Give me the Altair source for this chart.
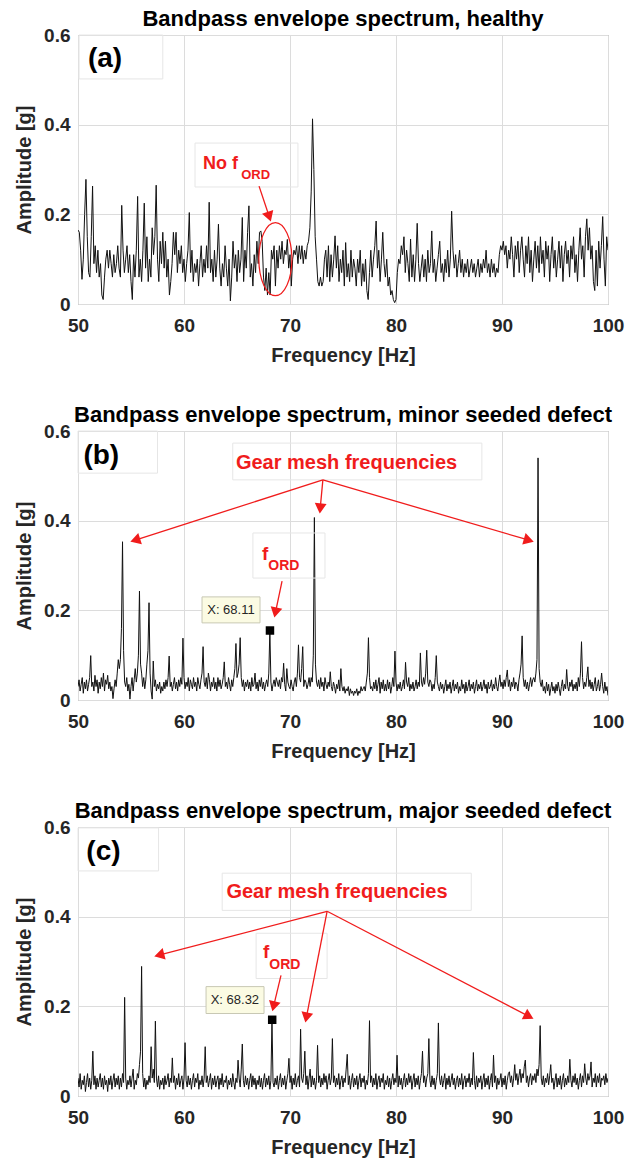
import math
import altair as alt
import pandas as pd

# ---------------- data ----------------
X_TICKS = [50, 60, 70, 80, 90, 100]
Y_TICKS = [0, 0.2, 0.4, 0.6]

TITLES = [
    "Bandpass envelope spectrum, healthy",
    "Bandpass envelope spectrum, minor seeded defect",
    "Bandpass envelope spectrum, major seeded defect",
]
PANEL_LABELS = ["(a)", "(b)", "(c)"]

# (a) healthy: frequency resolution 0.125 Hz starting at 50 Hz
STEP_A = 0.125
AMP_A = [
    0.165, 0.16, 0.12, 0.055, 0.1, 0.2, 0.278, 0.15,
    0.07, 0.06, 0.15, 0.263, 0.09, 0.13, 0.07, 0.12,
    0.06, 0.09, 0.02, 0.01, 0.06, 0.1, 0.12, 0.08,
    0.12, 0.09, 0.06, 0.11, 0.07, 0.09, 0.13, 0.08,
    0.06, 0.22, 0.12, 0.07, 0.1, 0.13, 0.07, 0.11,
    0.05, 0.01, 0.11, 0.06, 0.12, 0.24, 0.06, 0.1,
    0.05, 0.12, 0.225, 0.08, 0.15, 0.05, 0.1, 0.06,
    0.17, 0.11, 0.15, 0.265, 0.1, 0.05, 0.14, 0.09,
    0.16, 0.08, 0.14, 0.06, 0.1, 0.02, 0.05, 0.09,
    0.16, 0.11, 0.16, 0.07, 0.12, 0.09, 0.13, 0.07,
    0.1, 0.05, 0.09, 0.12, 0.204, 0.07, 0.12, 0.05,
    0.09, 0.07, 0.1, 0.04, 0.09, 0.13, 0.06, 0.1,
    0.07, 0.13, 0.08, 0.227, 0.07, 0.1, 0.05, 0.12,
    0.06, 0.1, 0.178, 0.08, 0.04, 0.09, 0.06, 0.13,
    0.08, 0.04, 0.1, 0.007, 0.06, 0.14, 0.08, 0.11,
    0.05, 0.12, 0.07, 0.1, 0.193, 0.05, 0.12, 0.08,
    0.16, 0.219, 0.06, 0.09, 0.04, 0.11, 0.07, 0.14,
    0.09, 0.16, 0.163, 0.14, 0.06, 0.03, 0.08, 0.02,
    0.07, 0.02, 0.12, 0.1, 0.13, 0.04, 0.12, 0.08,
    0.13, 0.1, 0.14, 0.09, 0.12, 0.11, 0.144, 0.08,
    0.11, 0.04, 0.1, 0.12, 0.11, 0.13, 0.09, 0.13,
    0.1, 0.13, 0.09, 0.12, 0.1, 0.13, 0.14, 0.17,
    0.25, 0.413, 0.3, 0.15, 0.1, 0.05, 0.04, 0.06,
    0.04, 0.05, 0.1, 0.12, 0.06, 0.13, 0.05, 0.11,
    0.06, 0.1, 0.152, 0.08, 0.13, 0.05, 0.1, 0.07,
    0.12, 0.04, 0.137, 0.06, 0.09, 0.05, 0.12, 0.06,
    0.1, 0.08, 0.04, 0.1, 0.07, 0.12, 0.04, 0.09,
    0.05, 0.1, 0.03, 0.01, 0.07, 0.12, 0.06, 0.1,
    0.13, 0.185, 0.08, 0.12, 0.05, 0.1, 0.16, 0.09,
    0.06, 0.1, 0.04, 0.06, 0.02, 0.03, 0.01, 0.003,
    0.01, 0.07, 0.1, 0.09, 0.13, 0.11, 0.15, 0.07,
    0.12, 0.09, 0.05, 0.145, 0.06, 0.11, 0.05, 0.1,
    0.18, 0.09, 0.05, 0.08, 0.11, 0.06, 0.1, 0.05,
    0.12, 0.07, 0.09, 0.163, 0.07, 0.1, 0.05, 0.08,
    0.11, 0.14, 0.07, 0.09, 0.05, 0.1, 0.07, 0.12,
    0.06, 0.1, 0.207, 0.12, 0.08, 0.11, 0.06, 0.09,
    0.12, 0.07, 0.1, 0.06, 0.09, 0.07, 0.1, 0.06,
    0.08, 0.1, 0.07, 0.09, 0.06, 0.08, 0.1, 0.06,
    0.09, 0.07, 0.1, 0.08, 0.12, 0.07, 0.09, 0.06,
    0.1, 0.07, 0.09, 0.06, 0.08, 0.07, 0.11, 0.13,
    0.12, 0.14, 0.11, 0.13, 0.08, 0.12, 0.1, 0.15,
    0.11, 0.06, 0.13, 0.1, 0.14, 0.07, 0.12, 0.15,
    0.1, 0.06, 0.13, 0.09, 0.15, 0.07, 0.12, 0.05,
    0.1, 0.14, 0.08, 0.13, 0.07, 0.15, 0.09, 0.12,
    0.06, 0.14, 0.1, 0.13, 0.05, 0.11, 0.15, 0.08,
    0.12, 0.06, 0.1, 0.14, 0.08, 0.13, 0.05, 0.11,
    0.14, 0.09, 0.12, 0.06, 0.13, 0.1, 0.15, 0.07,
    0.11, 0.05, 0.12, 0.17, 0.1, 0.13, 0.06, 0.15,
    0.19, 0.12, 0.17, 0.1, 0.13, 0.05, 0.03, 0.12,
    0.04, 0.14, 0.08, 0.13, 0.195, 0.1, 0.04, 0.15,
    0.12,
]

# (b) and (c): frequency resolution 0.1 Hz starting at 50 Hz
STEP_BC = 0.1
AMP_B = [
    0.03, 0.045, 0.02, 0.035, 0.05, 0.015, 0.04, 0.025, 0.045, 0.02,
    0.035, 0.05, 0.099, 0.03, 0.04, 0.02, 0.055, 0.03, 0.045, 0.015,
    0.04, 0.025, 0.05, 0.03, 0.06, 0.02, 0.045, 0.035, 0.055, 0.025,
    0.04, 0.02, 0.03, 0.003, 0.025, 0.045, 0.03, 0.06, 0.09, 0.07,
    0.09, 0.16, 0.353, 0.11, 0.04, 0.03, 0.05, 0.02, 0.035, 0.002,
    0.03, 0.05, 0.02, 0.045, 0.07, 0.04, 0.06, 0.1, 0.243, 0.08,
    0.06, 0.03, 0.05, 0.025, 0.045, 0.08, 0.11, 0.217, 0.06, 0.02,
    0.002, 0.087, 0.03, 0.045, 0.02, 0.035, 0.025, 0.04, 0.015, 0.03,
    0.02, 0.04, 0.025, 0.045, 0.03, 0.05, 0.098, 0.03, 0.04, 0.02,
    0.035, 0.05, 0.025, 0.04, 0.02, 0.045, 0.03, 0.05, 0.035, 0.138,
    0.05, 0.025, 0.04, 0.03, 0.05, 0.02, 0.045, 0.035, 0.025, 0.05,
    0.03, 0.04, 0.02, 0.05, 0.035, 0.025, 0.045, 0.06, 0.119, 0.04,
    0.03, 0.05, 0.025, 0.06, 0.045, 0.02, 0.04, 0.03, 0.05, 0.025,
    0.04, 0.02, 0.05, 0.03, 0.045, 0.025, 0.035, 0.05, 0.085, 0.03,
    0.04, 0.025, 0.05, 0.035, 0.02, 0.045, 0.03, 0.05, 0.07, 0.126,
    0.05, 0.06, 0.08, 0.139, 0.05, 0.03, 0.045, 0.02, 0.04, 0.03,
    0.045, 0.025, 0.04, 0.02, 0.05, 0.03, 0.035, 0.06, 0.025, 0.04,
    0.02, 0.045, 0.03, 0.05, 0.025, 0.04, 0.02, 0.035, 0.045, 0.03,
    0.06, 0.155, 0.04, 0.02, 0.035, 0.045, 0.03, 0.05, 0.04, 0.03,
    0.045, 0.025, 0.05, 0.04, 0.082, 0.035, 0.02, 0.07, 0.04, 0.03,
    0.025, 0.045, 0.03, 0.02, 0.04, 0.05, 0.03, 0.06, 0.123, 0.05,
    0.04, 0.07, 0.119, 0.03, 0.045, 0.04, 0.025, 0.035, 0.05, 0.03,
    0.05, 0.04, 0.1, 0.407, 0.08, 0.04, 0.03, 0.045, 0.025, 0.05,
    0.03, 0.04, 0.02, 0.05, 0.035, 0.025, 0.04, 0.03, 0.063, 0.03,
    0.02, 0.04, 0.03, 0.015, 0.035, 0.025, 0.045, 0.02, 0.07, 0.03,
    0.02, 0.03, 0.015, 0.025, 0.02, 0.03, 0.01, 0.025, 0.015, 0.02,
    0.01, 0.02, 0.015, 0.025, 0.01, 0.02, 0.015, 0.03, 0.02, 0.025,
    0.03, 0.02, 0.04, 0.06, 0.139, 0.05, 0.025, 0.03, 0.02, 0.04,
    0.025, 0.045, 0.02, 0.035, 0.05, 0.015, 0.04, 0.025, 0.045, 0.02,
    0.035, 0.02, 0.045, 0.025, 0.04, 0.015, 0.03, 0.05, 0.03, 0.109,
    0.04, 0.02, 0.035, 0.025, 0.04, 0.02, 0.03, 0.045, 0.025, 0.084,
    0.04, 0.03, 0.05, 0.02, 0.035, 0.025, 0.04, 0.02, 0.03, 0.045,
    0.025, 0.04, 0.03, 0.105, 0.04, 0.03, 0.05, 0.035, 0.06, 0.111,
    0.04, 0.03, 0.045, 0.04, 0.02, 0.035, 0.025, 0.05, 0.099, 0.04,
    0.03, 0.02, 0.04, 0.025, 0.035, 0.015, 0.03, 0.045, 0.02, 0.035,
    0.025, 0.04, 0.015, 0.03, 0.045, 0.02, 0.035, 0.025, 0.04, 0.015,
    0.03, 0.02, 0.045, 0.025, 0.035, 0.015, 0.04, 0.02, 0.03, 0.045,
    0.02, 0.035, 0.025, 0.04, 0.015, 0.03, 0.045, 0.02, 0.035, 0.025,
    0.04, 0.02, 0.03, 0.045, 0.025, 0.035, 0.015, 0.04, 0.025, 0.03,
    0.045, 0.02, 0.035, 0.025, 0.05, 0.03, 0.02, 0.04, 0.056, 0.03,
    0.04, 0.025, 0.045, 0.03, 0.05, 0.067, 0.03, 0.045, 0.02, 0.04,
    0.03, 0.05, 0.025, 0.04, 0.035, 0.02, 0.045, 0.06, 0.08, 0.143,
    0.05, 0.03, 0.045, 0.025, 0.04, 0.02, 0.035, 0.05, 0.03, 0.045,
    0.05, 0.04, 0.06, 0.09, 0.54, 0.07, 0.04, 0.03, 0.045, 0.02,
    0.03, 0.015, 0.04, 0.02, 0.035, 0.01, 0.025, 0.04, 0.02, 0.03,
    0.015, 0.035, 0.02, 0.04, 0.025, 0.01, 0.03, 0.045, 0.02, 0.035,
    0.025, 0.068, 0.03, 0.02, 0.04, 0.03, 0.045, 0.02, 0.035, 0.025,
    0.04, 0.02, 0.05, 0.03, 0.06, 0.13, 0.05, 0.025, 0.04, 0.03,
    0.05, 0.074, 0.03, 0.045, 0.025, 0.04, 0.02, 0.035, 0.05, 0.02,
    0.03, 0.045, 0.02, 0.035, 0.06, 0.03, 0.015, 0.04, 0.02, 0.03,
    0.01,
]

AMP_C = [
    0.04, 0.02, 0.05, 0.015, 0.035, 0.025, 0.045, 0.01, 0.03, 0.05,
    0.02, 0.04, 0.015, 0.035, 0.1, 0.025, 0.045, 0.015, 0.04, 0.02,
    0.035, 0.05, 0.02, 0.04, 0.015, 0.045, 0.025, 0.035, 0.01, 0.04,
    0.025, 0.045, 0.015, 0.035, 0.05, 0.02, 0.04, 0.025, 0.045, 0.015,
    0.04, 0.02, 0.05, 0.03, 0.22, 0.04, 0.015, 0.035, 0.025, 0.045,
    0.02, 0.04, 0.06, 0.015, 0.035, 0.025, 0.05, 0.04, 0.07, 0.1,
    0.289, 0.05, 0.02, 0.04, 0.015, 0.035, 0.025, 0.045, 0.03, 0.11,
    0.04, 0.06, 0.03, 0.167, 0.04, 0.02, 0.045, 0.015, 0.035, 0.025,
    0.04, 0.015, 0.045, 0.025, 0.035, 0.05, 0.02, 0.04, 0.03, 0.085,
    0.03, 0.045, 0.015, 0.04, 0.025, 0.05, 0.02, 0.035, 0.045, 0.015,
    0.04, 0.119, 0.035, 0.02, 0.045, 0.025, 0.04, 0.015, 0.035, 0.05,
    0.02, 0.04, 0.03, 0.05, 0.015, 0.035, 0.025, 0.045, 0.02, 0.04,
    0.11, 0.03, 0.045, 0.02, 0.035, 0.05, 0.015, 0.04, 0.025, 0.045,
    0.02, 0.035, 0.045, 0.015, 0.04, 0.025, 0.05, 0.02, 0.035, 0.03,
    0.045, 0.015, 0.035, 0.025, 0.04, 0.02, 0.05, 0.03, 0.015, 0.04,
    0.03, 0.08, 0.04, 0.02, 0.06, 0.116, 0.035, 0.02, 0.045, 0.025,
    0.04, 0.015, 0.035, 0.05, 0.02, 0.045, 0.025, 0.04, 0.015, 0.035,
    0.025, 0.045, 0.02, 0.04, 0.015, 0.035, 0.05, 0.02, 0.04, 0.025,
    0.045, 0.015, 0.035, 0.17, 0.03, 0.02, 0.04, 0.025, 0.045, 0.015,
    0.035, 0.05, 0.02, 0.04, 0.025, 0.045, 0.015, 0.035, 0.05, 0.084,
    0.03, 0.045, 0.015, 0.04, 0.025, 0.05, 0.02, 0.035, 0.045, 0.02,
    0.149, 0.04, 0.03, 0.05, 0.1, 0.025, 0.045, 0.015, 0.04, 0.06,
    0.02, 0.045, 0.025, 0.04, 0.015, 0.035, 0.113, 0.03, 0.045, 0.02,
    0.04, 0.025, 0.05, 0.03, 0.045, 0.015, 0.035, 0.05, 0.025, 0.04,
    0.128, 0.03, 0.045, 0.02, 0.04, 0.025, 0.05, 0.015, 0.035, 0.045,
    0.02, 0.04, 0.03, 0.06, 0.093, 0.025, 0.045, 0.015, 0.035, 0.05,
    0.02, 0.04, 0.025, 0.045, 0.015, 0.035, 0.05, 0.02, 0.04, 0.03,
    0.045, 0.015, 0.035, 0.025, 0.05, 0.168, 0.03, 0.045, 0.02, 0.04,
    0.025, 0.05, 0.015, 0.035, 0.045, 0.02, 0.04, 0.03, 0.05, 0.015,
    0.035, 0.025, 0.045, 0.02, 0.04, 0.015, 0.035, 0.05, 0.025, 0.04,
    0.03, 0.091, 0.02, 0.045, 0.025, 0.04, 0.015, 0.035, 0.05, 0.02,
    0.04, 0.025, 0.05, 0.03, 0.045, 0.015, 0.035, 0.05, 0.02, 0.04,
    0.025, 0.045, 0.015, 0.035, 0.05, 0.1, 0.03, 0.045, 0.02, 0.04,
    0.05, 0.128, 0.035, 0.02, 0.045, 0.025, 0.04, 0.015, 0.035, 0.05,
    0.163, 0.04, 0.025, 0.045, 0.02, 0.035, 0.05, 0.015, 0.04, 0.025,
    0.045, 0.02, 0.035, 0.05, 0.025, 0.04, 0.015, 0.035, 0.045, 0.02,
    0.04, 0.025, 0.05, 0.015, 0.035, 0.045, 0.02, 0.04, 0.03, 0.05,
    0.02, 0.04, 0.025, 0.097, 0.035, 0.015, 0.045, 0.02, 0.04, 0.03,
    0.045, 0.015, 0.035, 0.05, 0.02, 0.04, 0.025, 0.045, 0.015, 0.035,
    0.05, 0.02, 0.091, 0.03, 0.045, 0.015, 0.04, 0.025, 0.035, 0.05,
    0.02, 0.04, 0.025, 0.045, 0.015, 0.035, 0.05, 0.054, 0.03, 0.045,
    0.02, 0.04, 0.07, 0.035, 0.05, 0.025, 0.045, 0.06, 0.03, 0.05,
    0.04, 0.065, 0.08, 0.03, 0.045, 0.02, 0.04, 0.05, 0.025, 0.045,
    0.035, 0.05, 0.03, 0.06, 0.045, 0.07, 0.157, 0.04, 0.025, 0.045,
    0.02, 0.04, 0.03, 0.05, 0.025, 0.045, 0.07, 0.03, 0.04, 0.015,
    0.035, 0.05, 0.02, 0.04, 0.025, 0.045, 0.015, 0.035, 0.05, 0.02,
    0.04, 0.025, 0.045, 0.03, 0.082, 0.035, 0.02, 0.045, 0.03, 0.05,
    0.025, 0.04, 0.015, 0.035, 0.05, 0.02, 0.045, 0.03, 0.072, 0.04,
    0.025, 0.05, 0.035, 0.045, 0.076, 0.02, 0.04, 0.03, 0.05, 0.02,
    0.045, 0.03, 0.05, 0.02, 0.04, 0.035, 0.045, 0.025, 0.05, 0.03,
    0.04,
]

# data-tip readouts (frequency, amplitude) for (b) and (c)
TIP_FREQ = [None, 68.11, 68.32]
TIP_AMP = [None, 0.155, 0.17]
TIP_TEXT = [None, "X: 68.11", "X: 68.32"]

# ---------------- layout / style ----------------
W = 530
H = 269
FONT = "Liberation Sans"
RED = "#f01c1c"
PX_HZ = W / 50.0
PX_G = H / 0.6

XS = alt.Scale(domain=[50, 100], nice=False, zero=False)
YS = alt.Scale(domain=[0, 0.6], nice=False, zero=False)
XAXIS = alt.Axis(values=X_TICKS, title="Frequency [Hz]", grid=True, labelFlush=False)
YAXIS = alt.Axis(values=Y_TICKS, title="Amplitude [g]", grid=True, format="~g", labelFlush=False)

# annotation geometry per panel (data coordinates)
ANN = [
    dict(
        label_box=(50.1, 58.0, 0.6, 0.502), label_xy=(52.55, 0.547),
        boxes=[(61.04, 70.75, 0.359, 0.261)],
        texts=[("No f", 61.8, 0.301, 18), ("ORD", 65.4, 0.279, 13)],
        arrows=[(67.08, 0.263, 68.11, 0.19)],
        ellipse=(68.62, 0.1, 16.5, 36.5),
        tip_box=None, tip_xy=None,
    ),
    dict(
        label_box=(50.0, 57.5, 0.6, 0.506), label_xy=(52.2, 0.544),
        boxes=[(64.6, 88.1, 0.573, 0.491), (66.5, 73.3, 0.3725, 0.272)],
        texts=[("Gear mesh frequencies", 64.9, 0.515, 20),
               ("f", 67.36, 0.312, 19), ("ORD", 67.95, 0.29, 14)],
        arrows=[(73.1, 0.491, 55.19, 0.355), (73.1, 0.491, 72.83, 0.422),
                (73.1, 0.491, 92.74, 0.355), (69.25, 0.265, 68.58, 0.19)],
        ellipse=None,
        tip_box=(61.7, 67.17, 0.23, 0.172), tip_xy=(64.43, 0.2),
    ),
    dict(
        label_box=(50.0, 57.6, 0.598, 0.502), label_xy=(52.4, 0.545),
        boxes=[(63.6, 87.1, 0.497, 0.414), (66.8, 73.5, 0.363, 0.262)],
        texts=[("Gear mesh frequencies", 64.0, 0.442, 20),
               ("f", 67.45, 0.307, 19), ("ORD", 68.05, 0.284, 14)],
        arrows=[(73.5, 0.412, 57.45, 0.313), (73.5, 0.412, 71.5, 0.17),
                (73.5, 0.412, 92.74, 0.175), (69.15, 0.269, 68.4, 0.195)],
        ellipse=None,
        tip_box=(62.08, 67.55, 0.244, 0.184), tip_xy=(64.8, 0.215),
    ),
]


def x_enc(field):
    return alt.X(field, type="quantitative", scale=XS, axis=XAXIS)


def y_enc(field):
    return alt.Y(field, type="quantitative", scale=YS, axis=YAXIS)


def make_panel(i, amps, step):
    spec = pd.DataFrame({
        "freq": [50 + k * step for k in range(len(amps))],
        "amp": amps,
    })
    line = alt.Chart(spec).mark_line(color="#111111", strokeWidth=1, clip=True).encode(
        x=x_enc("freq"), y=y_enc("amp"),
    )
    a = ANN[i]
    layers = [line]

    # faint text boxes
    bx = [a["label_box"]] + a["boxes"]
    boxes = pd.DataFrame({"x": [b[0] for b in bx], "x2": [b[1] for b in bx],
                          "y": [b[2] for b in bx], "y2": [b[3] for b in bx]})
    layers.append(alt.Chart(boxes).mark_rect(fill=None, stroke="#e6e6e6", strokeWidth=1).encode(
        x=x_enc("x"), x2="x2", y=y_enc("y"), y2="y2"))

    # panel label
    lab = pd.DataFrame({"x": [a["label_xy"][0]], "y": [a["label_xy"][1]], "t": [PANEL_LABELS[i]]})
    layers.append(alt.Chart(lab).mark_text(font=FONT, fontSize=28, fontWeight="bold",
                                           color="#000000", align="center", baseline="middle").encode(
        x=x_enc("x"), y=y_enc("y"), text="t:N"))

    # red annotation texts
    for (t, tx, ty, fs) in a["texts"]:
        d = pd.DataFrame({"x": [tx], "y": [ty], "t": [t]})
        layers.append(alt.Chart(d).mark_text(font=FONT, fontSize=fs, fontWeight="bold", color=RED,
                                             align="left", baseline="alphabetic").encode(
            x=x_enc("x"), y=y_enc("y"), text="t:N"))

    # arrows
    rx, ry, rx2, ry2, hx, hy, ang = [], [], [], [], [], [], []
    for (x0, y0, x1, y1) in a["arrows"]:
        dxp = (x1 - x0) * PX_HZ
        dyp = -(y1 - y0) * PX_G
        L = math.hypot(dxp, dyp)
        ux, uy = dxp / L, dyp / L
        back = 4.0
        cx = x1 - ux * back / PX_HZ
        cy = y1 + uy * back / PX_G
        rx.append(x0); ry.append(y0); rx2.append(cx); ry2.append(cy)
        hx.append(cx); hy.append(cy)
        ang.append(math.degrees(math.atan2(dxp, -dyp)) % 360)
    seg = pd.DataFrame({"x": rx, "y": ry, "x2": rx2, "y2": ry2})
    layers.append(alt.Chart(seg).mark_rule(color=RED, strokeWidth=1.3).encode(
        x=x_enc("x"), y=y_enc("y"), x2="x2", y2="y2"))
    heads = pd.DataFrame({"x": hx, "y": hy, "ang": ang})
    layers.append(alt.Chart(heads).mark_point(shape="triangle", filled=True, fill=RED,
                                              stroke=RED, size=70, opacity=1).encode(
        x=x_enc("x"), y=y_enc("y"), angle=alt.Angle("ang:Q", scale=None)))

    # ellipse
    if a["ellipse"]:
        ex, ey, erx, ery = a["ellipse"]
        k = erx / ery
        path = f"M{-k:.4f},0A{k:.4f},1,0,1,1,{k:.4f},0A{k:.4f},1,0,1,1,{-k:.4f},0Z"
        d = pd.DataFrame({"x": [ex], "y": [ey]})
        layers.append(alt.Chart(d).mark_point(shape=path, filled=False, stroke=RED, strokeWidth=1.2,
                                              size=(2 * ery) ** 2, opacity=1).encode(
            x=x_enc("x"), y=y_enc("y")))

    # data tip
    if a["tip_box"]:
        tb = a["tip_box"]
        d = pd.DataFrame({"x": [tb[0]], "x2": [tb[1]], "y": [tb[2]], "y2": [tb[3]]})
        layers.append(alt.Chart(d).mark_rect(fill="#fbfbe3", stroke="#c8c8b4", strokeWidth=1).encode(
            x=x_enc("x"), x2="x2", y=y_enc("y"), y2="y2"))
        d = pd.DataFrame({"x": [a["tip_xy"][0]], "y": [a["tip_xy"][1]], "t": [TIP_TEXT[i]]})
        layers.append(alt.Chart(d).mark_text(font=FONT, fontSize=13, color="#262626",
                                             align="center", baseline="middle").encode(
            x=x_enc("x"), y=y_enc("y"), text="t:N"))
        d = pd.DataFrame({"x": [TIP_FREQ[i]], "y": [TIP_AMP[i]]})
        layers.append(alt.Chart(d).mark_square(color="#000000", size=72, opacity=1).encode(
            x=x_enc("x"), y=y_enc("y")))

    return alt.layer(*layers).properties(
        width=W, height=H,
        title=alt.TitleParams(TITLES[i], anchor="middle", offset=-5),
    )


panels = [make_panel(0, AMP_A, STEP_A), make_panel(1, AMP_B, STEP_BC), make_panel(2, AMP_C, STEP_BC)]

chart = alt.vconcat(*panels, spacing=37).properties(
    padding={"left": 14, "top": 7, "right": 4, "bottom": 2},
).configure(font=FONT).configure_view(
    stroke="#8c8c8c", strokeWidth=1,
).configure_axis(
    labelFont=FONT, labelFontSize=19, labelFontWeight="bold", labelColor="#262626",
    titleFont=FONT, titleFontSize=20, titleFontWeight="bold", titleColor="#262626",
    ticks=False, domain=False, gridColor="#dcdcdc", gridWidth=1,
).configure_axisX(labelPadding=12, titlePadding=10).configure_axisY(
    labelPadding=8, titlePadding=9,
).configure_title(
    font=FONT, fontSize=22, fontWeight="bold", color="#000000",
)

chart.save("out.html", embed_options={"renderer": "svg", "actions": False})
